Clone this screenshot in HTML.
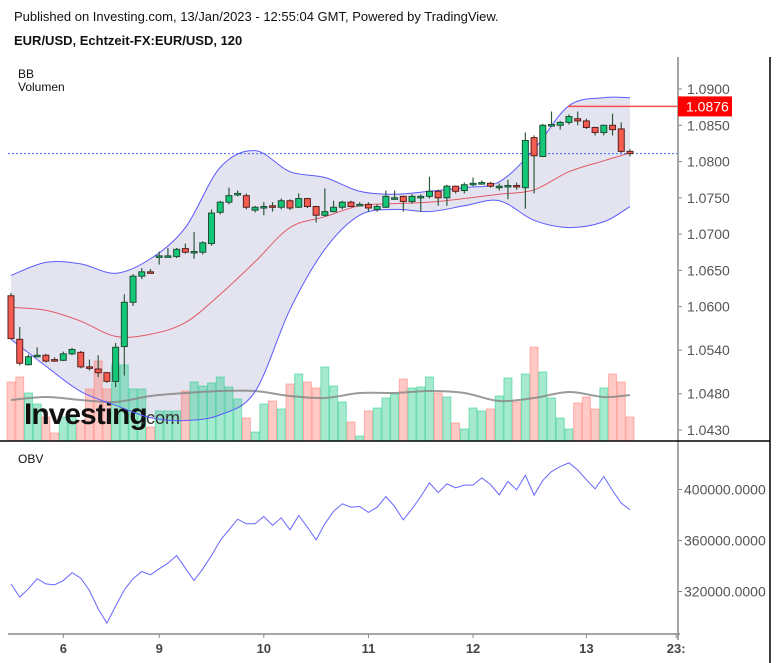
<!DOCTYPE html>
<html><head><meta charset="utf-8">
<style>
body{margin:0;background:#fff;width:777px;height:663px;overflow:hidden;font-family:"Liberation Sans",sans-serif;}
svg{position:absolute;left:0;top:0}
</style></head>
<body>
<svg id="chart" width="777" height="663" viewBox="0 0 777 663" xmlns="http://www.w3.org/2000/svg">
<text x="14" y="21" font-size="13" fill="#111">Published on Investing.com, 13/Jan/2023 - 12:55:04 GMT, Powered by TradingView.</text>
<text x="14" y="45" font-size="13" font-weight="bold" fill="#111">EUR/USD, Echtzeit-FX:EUR/USD, 120</text>
<text x="18" y="78" font-size="12" fill="#111">BB</text>
<text x="18" y="91" font-size="12" fill="#111">Volumen</text>
<text x="18" y="463" font-size="12" fill="#111">OBV</text>
<g id="main"></g>
<line x1="678" y1="57" x2="678" y2="640" stroke="#888" stroke-width="1.5"/>
<line x1="770" y1="57" x2="770" y2="663" stroke="#000" stroke-width="1.5"/>
<line x1="0" y1="441" x2="770" y2="441" stroke="#000" stroke-width="1.5"/>
<line x1="8" y1="634" x2="680" y2="634" stroke="#888" stroke-width="1.5"/>
<g id="axes"></g>
</svg>
<script>
const candleOpen=[1.0615,1.0555,1.0520,1.0533,1.0533,1.0527,1.0526,1.0535,1.0537,1.0517,1.0514,1.0509,1.0497,1.0545,1.0606,1.0642,1.0648,1.0668,1.0670,1.0669,1.0680,1.0676,1.0675,1.0687,
1.0730,1.0744,1.0756,1.0753,1.0733,1.0738,1.0739,1.0737,1.0746,1.0737,1.0749,1.0738,1.0726,1.0731,1.0737,1.0744,1.0741,1.0741,1.0734,1.0737,1.0750,1.0752,
1.0745,1.0752,1.0752,1.0759,1.0750,1.0766,1.0760,1.0770,1.0771,1.0770,1.0766,1.0767,1.0767,1.0764,1.0833,1.0807,1.0851,1.0850,1.0854,1.0859,1.0856,1.0847,1.0840,1.0850,1.0845,1.0814];
const candleClose=[1.0556,1.0522,1.0531,1.0533,1.0525,1.0525,1.0535,1.0541,1.0517,1.0516,1.0509,1.0497,1.0544,1.0606,1.0642,1.0648,1.0647,1.0670,1.0670,1.0679,1.0675,1.0676,1.0688,1.0729,
1.0744,1.0753,1.0756,1.0737,1.0737,1.0738,1.0737,1.0746,1.0736,1.0749,1.0738,1.0726,1.0731,1.0737,1.0744,1.0738,1.0741,1.0736,1.0738,1.0752,1.0750,1.0745,
1.0752,1.0752,1.0759,1.0750,1.0766,1.0759,1.0768,1.0770,1.0771,1.0766,1.0766,1.0767,1.0766,1.0829,1.0808,1.0850,1.0851,1.0854,1.0862,1.0856,1.0847,1.0840,1.0850,1.0844,1.0814,1.0811];
const candleHigh=[1.0619,1.0572,1.0534,1.0544,1.0535,1.0530,1.0538,1.0543,1.0539,1.0527,1.0533,1.0510,1.0550,1.0617,1.0645,1.0653,1.0652,1.0676,1.0681,1.0681,1.0687,1.0703,1.0690,1.0734,
1.0746,1.0764,1.0760,1.0756,1.0739,1.0744,1.0744,1.0749,1.0748,1.0756,1.0750,1.0739,1.0763,1.0746,1.0746,1.0746,1.0744,1.0744,1.0741,1.0760,1.0760,1.0753,
1.0755,1.0755,1.0779,1.0761,1.0768,1.0767,1.0771,1.0778,1.0774,1.0772,1.0770,1.0775,1.0771,1.0840,1.0836,1.0852,1.0869,1.0856,1.0865,1.0869,1.0859,1.0848,1.0851,1.0866,1.0854,1.0817];
const candleLow=[1.0555,1.0519,1.0519,1.0530,1.0523,1.0524,1.0525,1.0533,1.0515,1.0512,1.0503,1.0495,1.0489,1.0505,1.0601,1.0638,1.0646,1.0658,1.0668,1.0667,1.0673,1.0666,1.0672,1.0684,
1.0727,1.0741,1.0752,1.0734,1.0730,1.0726,1.0731,1.0734,1.0733,1.0736,1.0736,1.0716,1.0724,1.0730,1.0734,1.0737,1.0738,1.0731,1.0731,1.0736,1.0748,1.0731,
1.0742,1.0731,1.0749,1.0739,1.0739,1.0756,1.0756,1.0766,1.0768,1.0764,1.0760,1.0748,1.0761,1.0735,1.0756,1.0806,1.0848,1.0844,1.0851,1.0850,1.0845,1.0836,1.0836,1.0836,1.0812,1.0807];
const volumes=[5900,6400,4800,3700,2400,800,2400,2400,2000,5200,8000,5200,7600,7600,5200,5200,1400,3000,3000,3000,5000,5900,5500,5800,
6400,5400,4200,2300,900,3700,4000,3200,5700,6700,5900,5300,7400,5500,3900,1900,500,3000,3300,4300,4700,6200,
5300,5400,6400,4800,4400,1800,1200,3300,3000,3200,4500,6300,3900,6700,9400,6900,4300,2300,1200,3800,4400,3200,5300,6700,5900,2400];
const obvValues=[326000,315600,322100,330000,326000,325200,328600,334700,330500,320800,306400,295200,308500,321300,330000,335700,333100,337800,342200,348200,338300,328600,337800,348200,
360000,368400,376700,373100,373100,378800,372000,377800,368400,379600,370500,360500,373100,383000,388800,386100,386700,382000,386100,394500,386700,376200,
384800,394500,405200,397600,404400,401300,403400,403400,409100,403900,395800,406300,399700,411200,395600,407100,414100,418000,420900,415400,407600,400500,410200,399200,389300,384100];
const bandIdx=[0,4,8,12,16,20,24,28,32,36,40,44,48,52,56,60,64,68,71];
const bbUpper=[1.0643,1.0661,1.0659,1.0646,1.0666,1.0709,1.0792,1.0815,1.0786,1.0778,1.0759,1.0755,1.0759,1.0764,1.0772,1.0817,1.0877,1.0888,1.0888];
const bbMiddle=[1.0599,1.0595,1.0580,1.0559,1.0562,1.0578,1.0617,1.0662,1.0709,1.0724,1.0739,1.0742,1.0744,1.0749,1.0755,1.0761,1.0786,1.0801,1.0812];
const bbLower=[1.0555,1.0518,1.0483,1.0464,1.0447,1.0443,1.0451,1.0483,1.0596,1.0679,1.0726,1.0734,1.0731,1.0739,1.0746,1.0719,1.0709,1.0717,1.0738];
const volMA=[4100,4400,4100,3900,4500,4800,5000,5000,4500,4300,4800,4800,5000,4800,4000,4300,4900,4400,4600];
const priceTicks=[1.0900,1.0850,1.0800,1.0750,1.0700,1.0650,1.0600,1.0540,1.0480,1.0430];
const obvTicks=[400000,360000,320000];
const dayLabels=["6","9","10","11","12","13","23:"];
const dayLabelIdx=[6,17,29,41,53,66,76.3];
const highMark=1.0876;

const NS="http://www.w3.org/2000/svg";
const xOf=i=>11+i*8.718;
const yP=p=>89+(1.09-p)*7255;
const yV=v=>441-v/100;
const yO=v=>489.5+(400000-v)*51/40000;
function mk(tag,attrs,parent){const e=document.createElementNS(NS,tag);for(const k in attrs)e.setAttribute(k,attrs[k]);parent.appendChild(e);return e;}
function smooth(pts,move){
  let d=(move?'M':'L')+pts[0][0]+','+pts[0][1];
  for(let i=0;i<pts.length-1;i++){
    const p0=pts[Math.max(0,i-1)],p1=pts[i],p2=pts[i+1],p3=pts[Math.min(pts.length-1,i+2)];
    const c1=[p1[0]+(p2[0]-p0[0])/6,p1[1]+(p2[1]-p0[1])/6];
    const c2=[p2[0]-(p3[0]-p1[0])/6,p2[1]-(p3[1]-p1[1])/6];
    d+=' C'+c1[0]+','+c1[1]+' '+c2[0]+','+c2[1]+' '+p2[0]+','+p2[1];
  }
  return d;
}
const main=document.getElementById('main');
const axes=document.getElementById('axes');

const upPts=bandIdx.map((b,j)=>[xOf(b),yP(bbUpper[j])]);
const loPts=bandIdx.map((b,j)=>[xOf(b),yP(bbLower[j])]);
const midPts=bandIdx.map((b,j)=>[xOf(b),yP(bbMiddle[j])]);

let fill=mk('path',{d:smooth(upPts,true)+' '+smooth(loPts.slice().reverse(),false)+' Z',fill:'#e4e4f0'},main);



volumes.forEach((v,i)=>{
  const g=candleClose[i]>=candleOpen[i];
  const r=mk('rect',{x:xOf(i)-4,y:yV(v),width:8,height:441-yV(v),fill:g?'rgba(40,205,140,0.42)':'rgba(255,120,110,0.4)',stroke:g?'rgba(40,205,140,0.55)':'rgba(255,120,110,0.5)','stroke-width':1},main);
  
  
});
const wm=mk('text',{x:24,y:424,'font-size':30,'font-weight':'bold',fill:'#111','letter-spacing':'-1'},main);
wm.textContent='Investing';


const wm2=mk('text',{x:141,y:424,'font-size':18,fill:'#333'},main);
wm2.textContent='.com';



const vm=mk('path',{d:smooth(bandIdx.map((b,j)=>[xOf(b),yV(volMA[j])]),true),fill:'none',stroke:'#888','stroke-width':2,opacity:0.85},main);



const bu=mk('path',{d:smooth(upPts,true),fill:'none',stroke:'#5a5aff','stroke-width':1},main);


const bl=mk('path',{d:smooth(loPts,true),fill:'none',stroke:'#5a5aff','stroke-width':1},main);


const bm=mk('path',{d:smooth(midPts,true),fill:'none',stroke:'#e05a66','stroke-width':1},main);



const last=candleClose[candleClose.length-1];
const cl=mk('line',{x1:8,x2:678,y1:yP(last),y2:yP(last),stroke:'#4466ff','stroke-width':1,'stroke-dasharray':'2,2'},main);


const hl=mk('line',{x1:568,x2:678,y1:yP(highMark),y2:yP(highMark),stroke:'#ff4b4b','stroke-width':1.5},main);



candleOpen.forEach((o,i)=>{
  const c=candleClose[i],g=c>=o,x=xOf(i);
  const w=mk('line',{x1:x,x2:x,y1:yP(candleHigh[i]),y2:yP(candleLow[i]),stroke:'#2d5a3d','stroke-width':1.2},main);
  
  
  const top=yP(Math.max(o,c)),h=Math.max(1.5,Math.abs(yP(o)-yP(c)));
  const b=mk('rect',{x:x-3,y:top,width:6,height:h,fill:g?'#12c878':'#f45c52',stroke:g?'#1f4d33':'#5a1f1a','stroke-width':1},main);
  
  
});

const ob=mk('polyline',{points:obvValues.map((v,i)=>xOf(i)+','+yO(v)).join(' '),fill:'none',stroke:'#6666ff','stroke-width':1},main);



priceTicks.forEach(p=>{
  const y=yP(p);
  const t=mk('line',{x1:678,x2:682,y1:y,y2:y,stroke:'#888'},axes);
  
  
  const l=mk('text',{x:687,y:y+5,'font-size':14,fill:'#555'},axes);
  l.textContent=p.toFixed(4);
  
  
});
const hb=mk('rect',{x:678,y:yP(highMark)-10,width:54,height:20,fill:'#f00'},axes);


const ht=mk('text',{x:686,y:yP(highMark)+5,'font-size':14,fill:'#fff'},axes);
ht.textContent=highMark.toFixed(4);


obvTicks.forEach(v=>{
  const y=yO(v);
  const t=mk('line',{x1:678,x2:682,y1:y,y2:y,stroke:'#888'},axes);
  
  
  const l=mk('text',{x:684,y:y+5,'font-size':14,fill:'#555'},axes);
  l.textContent=v.toFixed(4);
  
  
});
dayLabels.forEach((d,j)=>{
  const x=xOf(dayLabelIdx[j]);
  const t=mk('line',{x1:x,x2:x,y1:634,y2:638,stroke:'#888'},axes);
  
  
  const l=mk('text',{x:x,y:653,'font-size':13,'font-weight':'bold',fill:'#444','text-anchor':'middle'},axes);
  l.textContent=d;
  
  
});
</script>
</body></html>
